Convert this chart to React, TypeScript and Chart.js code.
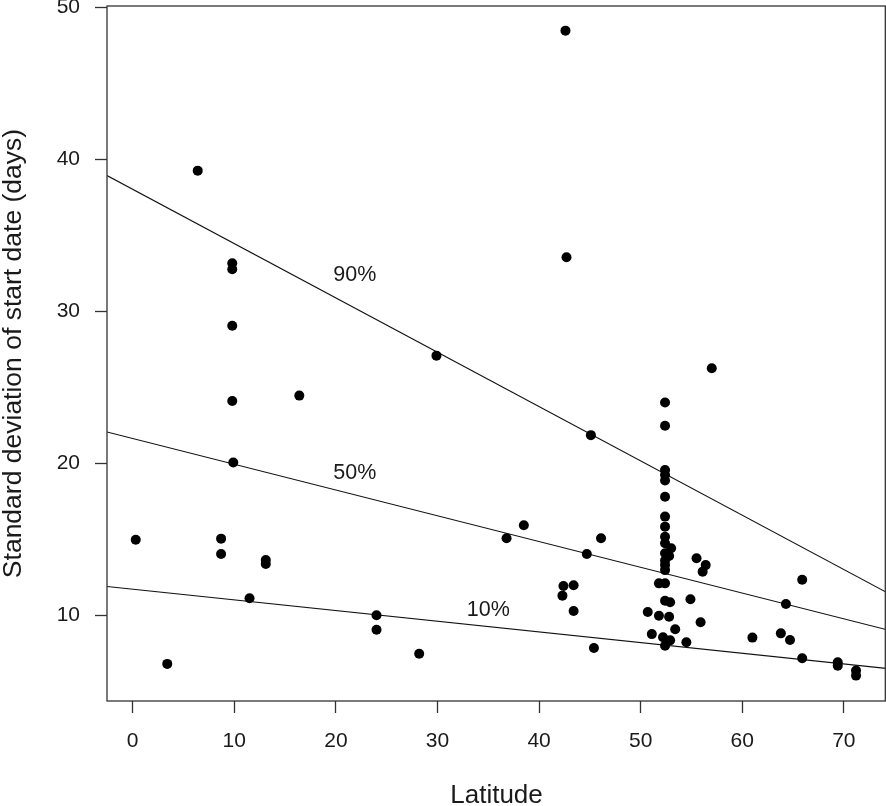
import React, { useEffect, useRef } from "react";
import { Chart, registerables } from "chart.js";

Chart.register(...registerables);

// ---- data ----
const latitude = [
  0.3, 3.4, 6.4, 8.7, 8.7, 9.8, 9.8, 9.8, 9.8, 9.9,
  11.5, 13.1, 13.1, 16.4, 24.0, 24.0, 28.2, 29.9, 36.8, 38.5,
  42.4, 42.3, 43.4, 43.4, 42.6, 42.7, 44.7, 45.1, 45.4, 46.1,
  52.4, 52.4, 52.4, 52.4, 52.4, 52.4, 52.4, 52.4, 52.4, 52.4,
  53.0, 52.4, 52.8, 52.4, 52.4, 52.4,
  51.8, 52.4, 52.4, 52.9, 54.9, 50.7, 51.8, 52.8, 55.9, 53.4,
  51.1, 52.2, 52.9, 54.5, 52.4, 55.5, 56.4, 56.1, 57.0, 61.0,
  63.8, 64.7, 64.3, 65.9, 65.9, 69.4, 69.4, 71.2, 71.2,
];
const sdStartDate = [
  14.97, 6.8, 39.25, 15.04, 14.03, 33.16, 32.76, 29.05, 24.1, 20.05,
  11.12, 13.64, 13.37, 24.45, 10.0, 9.05, 7.47, 27.08, 15.07, 15.92,
  11.93, 11.29, 11.97, 10.28, 48.46, 33.55, 14.03, 21.85, 7.85, 15.07,
  24.0, 22.47, 19.56, 19.23, 18.86, 17.8, 16.49, 15.83, 15.17, 14.74,
  14.41, 14.08, 13.9, 13.6, 13.3, 12.97,
  12.1, 12.1, 10.96, 10.86, 11.05, 10.22, 9.97, 9.9, 9.54, 9.08,
  8.76, 8.55, 8.35, 8.22, 8.0, 13.75, 13.3, 12.87, 26.25, 8.53,
  8.81, 8.37, 10.74, 12.34, 7.17, 6.91, 6.68, 6.36, 6.03,
];

const quantileNames = ["90%", "50%", "10%"];
const quantileIntercepts = [38.02, 21.63, 11.71];
const quantileSlopes = [-0.3573, -0.1695, -0.0702];
const quantileLabelLat = [21.87, 21.87, 35.0];
const quantileLabelSd = [32.39, 19.38, 10.35];

const xTickValues = [0, 10, 20, 30, 40, 50, 60, 70];
const yTickValues = [10, 20, 30, 40, 50];

const X_MIN = -2.53;
const X_MAX = 74.15;
const Y_MIN = 4.36;
const Y_MAX = 50.08;

const FONT = '"Liberation Sans", Arial, Helvetica, sans-serif';
const INK = "#1a1a1a";
const AXIS = "#333333";

const framePlugin = {
  id: "frameAndLabels",
  afterDraw(chart: any) {
    const { ctx, chartArea, scales } = chart;
    ctx.save();
    ctx.strokeStyle = AXIS;
    ctx.lineWidth = 1.3;
    ctx.strokeRect(
      chartArea.left,
      chartArea.top,
      chartArea.right - chartArea.left - 0.7,
      chartArea.bottom - chartArea.top
    );
    ctx.fillStyle = INK;
    ctx.font = `21.5px ${FONT}`;
    ctx.textAlign = "center";
    ctx.textBaseline = "middle";
    quantileNames.forEach((name, i) => {
      const px = scales.x.getPixelForValue(quantileLabelLat[i]);
      const py = scales.y.getPixelForValue(quantileLabelSd[i]);
      ctx.fillText(name, px, py);
    });
    ctx.restore();
  },
};

function zeroPadding(scale: any) {
  scale.paddingTop = 0;
  scale.paddingBottom = 0;
  scale.paddingLeft = 0;
  scale.paddingRight = 0;
}

export default function App() {
  const canvasRef = useRef<HTMLCanvasElement | null>(null);

  useEffect(() => {
    if (!canvasRef.current) return;
    const points = latitude.map((x, i) => ({ x, y: sdStartDate[i] }));
    const lineSets = quantileNames.map((name, i) => ({
      type: "line" as const,
      label: name,
      data: [
        { x: X_MIN, y: quantileIntercepts[i] + quantileSlopes[i] * X_MIN },
        { x: X_MAX, y: quantileIntercepts[i] + quantileSlopes[i] * X_MAX },
      ],
      borderColor: "#111111",
      borderWidth: 1.1,
      pointRadius: 0,
      showLine: true,
      fill: false,
      tension: 0,
    }));

    const chart = new Chart(canvasRef.current, {
      type: "scatter",
      data: {
        datasets: [
          {
            label: "sites",
            data: points,
            backgroundColor: "#000000",
            borderColor: "#000000",
            borderWidth: 0,
            pointRadius: 5,
            pointHoverRadius: 5,
          },
          ...lineSets,
        ] as any,
      },
      options: {
        animation: false,
        responsive: true,
        maintainAspectRatio: false,
        devicePixelRatio: 1,
        layout: { autoPadding: false, padding: { top: 6, right: 0, bottom: 0, left: 0 } },
        plugins: {
          legend: { display: false },
          tooltip: { enabled: false },
        },
        scales: {
          x: {
            type: "linear",
            min: X_MIN,
            max: X_MAX,
            afterBuildTicks: (scale: any) => {
              scale.ticks = xTickValues.map((v) => ({ value: v }));
            },
            afterFit: (scale: any) => {
              scale.height = 105;
              zeroPadding(scale);
            },
            grid: {
              display: true,
              drawOnChartArea: false,
              drawTicks: true,
              tickLength: 12,
              tickColor: AXIS,
              tickWidth: 1.3,
              color: AXIS,
            },
            border: { display: false },
            ticks: {
              color: INK,
              padding: 16,
              font: { family: FONT, size: 21 },
              maxRotation: 0,
              autoSkip: false,
            },
            title: {
              display: true,
              text: "Latitude",
              color: INK,
              font: { family: FONT, size: 26, lineHeight: 0.8 },
              padding: 0,
            },
          },
          y: {
            type: "linear",
            min: Y_MIN,
            max: Y_MAX,
            afterBuildTicks: (scale: any) => {
              scale.ticks = yTickValues.map((v) => ({ value: v }));
            },
            afterFit: (scale: any) => {
              scale.width = 107;
              zeroPadding(scale);
            },
            grid: {
              display: true,
              drawOnChartArea: false,
              drawTicks: true,
              tickLength: 12,
              tickColor: AXIS,
              tickWidth: 1.3,
              color: AXIS,
            },
            border: { display: false },
            ticks: {
              color: INK,
              padding: 15,
              font: { family: FONT, size: 21 },
              autoSkip: false,
            },
            title: {
              display: true,
              text: "Standard deviation of start date (days)",
              color: INK,
              font: { family: FONT, size: 26.5, lineHeight: 1 },
              padding: 0,
            },
          },
        },
      },
      plugins: [framePlugin],
    });

    return () => chart.destroy();
  }, []);

  return (
    <div
      style={{
        position: "absolute",
        left: 0,
        top: 0,
        width: 886,
        height: 806,
        background: "#ffffff",
      }}
    >
      <canvas ref={canvasRef} />
    </div>
  );
}
